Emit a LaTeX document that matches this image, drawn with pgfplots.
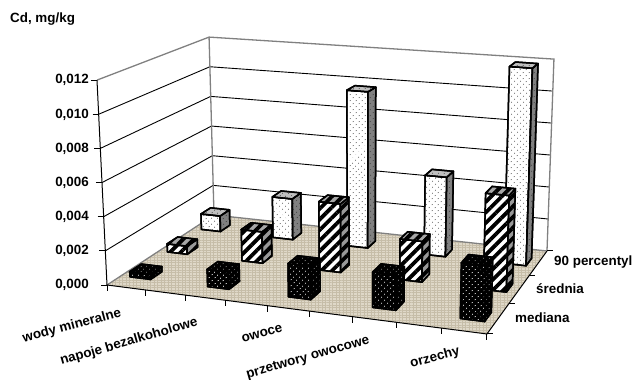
\documentclass[border=0pt]{standalone}
\usepackage{fontspec}
\setmainfont{Liberation Sans}
\usepackage{pgfplots}
\usepackage{pgfplotstable}
\pgfplotsset{compat=1.18}
\usetikzlibrary{patterns.meta}

\definecolor{wallgray}{HTML}{808080}
\definecolor{floorbase}{HTML}{DFD8C8}
\definecolor{floorweave}{HTML}{C6BDA8}

% Cd content (mg/kg): category slot k, then the three statistics
\pgfplotstableread{
k mediana srednia p90
0 0.0003  0.0005  0.0010
1 0.0010  0.0019  0.0026
2 0.0019  0.0041  0.0098
3 0.0020  0.0024  0.0049
4 0.0031  0.0056  0.0120
}\cdtable

% Perspective projection: u along the categories, v into the depth, third argument in mg/kg
\newcommand\cdpt[4]{%
  \pgfmathsetmacro\pw{1-0.08849*(#1)+0.15709*(#2)}%
  \pgfmathsetmacro\fx{(107+336.90*(#1)+140.62*(#2))/\pw}%
  \pgfmathsetmacro\fy{(285+19.44*(#1)-36.23*(#2))/\pw}%
  \pgfmathsetmacro\ph{(205*(1-(#1))*(1-(#2))+220*(#1)*(1-(#2))+192*(#1)*(#2)+178*(1-(#1))*(#2))*(#3)*1000/12}%
  \pgfmathsetmacro\px{\fx+(\fx-359)/(5440-\fy)*\ph}%
  \pgfmathsetmacro\py{\fy-\ph}%
  \expandafter\xdef\csname cdX#4\endcsname{\px}%
  \expandafter\xdef\csname cdY#4\endcsname{\py}%
}

% One 3-D column: slot, row, value, styles of the top, front and side faces
\newcommand\cdbar[6]{%
  \pgfmathsetmacro\cu{(2*#1+0.5)/9}%
  \pgfmathsetmacro\cv{(#2+0.5)/3}%
  \pgfmathsetmacro\ul{\cu-0.03}\pgfmathsetmacro\ur{\cu+0.03}%
  \pgfmathsetmacro\vf{\cv-0.05}\pgfmathsetmacro\vb{\cv+0.05}%
  \cdpt{\ul}{\vf}{0}{a}\cdpt{\ur}{\vf}{0}{b}\cdpt{\ur}{\vb}{0}{c}%
  \cdpt{\ul}{\vf}{#3}{d}\cdpt{\ur}{\vf}{#3}{e}\cdpt{\ur}{\vb}{#3}{f}\cdpt{\ul}{\vb}{#3}{g}%
  \addplot[#5] coordinates {(\cdXa,\cdYa)(\cdXb,\cdYb)(\cdXe,\cdYe)(\cdXd,\cdYd)} --cycle;
  \addplot[#6] coordinates {(\cdXb,\cdYb)(\cdXc,\cdYc)(\cdXf,\cdYf)(\cdXe,\cdYe)} --cycle;
  \addplot[#4] coordinates {(\cdXd,\cdYd)(\cdXe,\cdYe)(\cdXf,\cdYf)(\cdXg,\cdYg)} --cycle;
}

% A whole row of columns, taken from one column of the table
\newcommand\cdrow[5]{%
  \foreach \k in {0,...,4} {%
    \pgfplotstablegetelem{\k}{#1}\of\cdtable
    \let\cdval\pgfplotsretval
    \cdbar{\k}{#2}{\cdval}{#3}{#4}{#5}%
  }%
}

\tikzset{
  barline/.style={draw=black,line width=1.5pt,line join=round},
  dotsB/.style={postaction={pattern={Dots[angle=45,distance=4pt,radius=0.55pt]},pattern color=black!80}},
  dotsW/.style={postaction={pattern={Dots[angle=45,distance=4pt,radius=0.6pt]},pattern color=white}},
  dotsG/.style={postaction={pattern={Dots[angle=45,distance=4pt,radius=0.6pt]},pattern color=gray}},
  stripes/.style={postaction={pattern={Lines[angle=45,distance=7.5pt,line width=3.8pt]},pattern color=black}},
  p90front/.style={barline,fill=white,dotsB},
  p90side/.style={barline,fill=wallgray,dotsB},
  p90top/.style={barline,fill=black!25,dotsB},
  srfront/.style={barline,fill=white,stripes},
  srside/.style={barline,fill=black!40,stripes},
  srtop/.style={barline,fill=black!35,stripes},
  mefront/.style={barline,fill=black,dotsW},
  meside/.style={barline,fill=black,dotsG},
  metop/.style={barline,fill=black,dotsG},
  edge/.style={draw=black,line width=1pt},
  grayedge/.style={draw=wallgray,line width=1.3pt},
  lab/.style={font=\fontsize{13.4}{15}\selectfont\bfseries,inner sep=0pt},
}

\begin{document}
\begin{tikzpicture}
\path[use as bounding box] (0,0) rectangle (633pt,380pt);
\begin{axis}[
  at={(0,0)},anchor=south west,
  scale only axis,width=633pt,height=380pt,
  xmin=0,xmax=633,ymin=0,ymax=380,y dir=reverse,
  hide axis,clip=false,
]
% floor
\cdpt{0}{0}{0}{a}\cdpt{1}{0}{0}{b}\cdpt{1}{1}{0}{c}\cdpt{0}{1}{0}{d}
\addplot[draw=none,fill=floorbase,
  postaction={pattern={Lines[angle=0,distance=2.5pt,line width=0.6pt]},pattern color=floorweave},
  postaction={pattern={Lines[angle=90,distance=3.5pt,line width=0.6pt]},pattern color=floorweave}]
  coordinates {(\cdXa,\cdYa)(\cdXb,\cdYb)(\cdXc,\cdYc)(\cdXd,\cdYd)} --cycle;
\addplot[grayedge] coordinates {(\cdXa,\cdYa)(\cdXd,\cdYd)(\cdXc,\cdYc)};
\addplot[edge] coordinates {(\cdXa,\cdYa)(\cdXb,\cdYb)(\cdXc,\cdYc)};

% gridlines on the side wall and the back wall, with ticks of the value axis
\foreach \g in {0.002,0.004,0.006,0.008,0.010} {
  \cdpt{0}{0}{\g}{a}\cdpt{0}{1}{\g}{b}\cdpt{1}{1}{\g}{c}
  \addplot[draw=black,line width=0.9pt] coordinates {(\cdXa,\cdYa)(\cdXb,\cdYb)(\cdXc,\cdYc)};
}
\foreach \g in {0,0.002,0.004,0.006,0.008,0.010,0.012} {
  \cdpt{0}{0}{\g}{a}
  \pgfmathsetmacro\tx{\cdXa-6}
  \addplot[edge] coordinates {(\tx,\cdYa)(\cdXa,\cdYa)};
}
% wall frame
\cdpt{0}{0}{0.012}{a}\cdpt{0}{1}{0.012}{b}\cdpt{1}{1}{0.012}{c}
\cdpt{0}{1}{0}{d}\cdpt{1}{1}{0}{e}\cdpt{0}{0}{0}{f}
\addplot[grayedge] coordinates {(\cdXa,\cdYa)(\cdXb,\cdYb)(\cdXc,\cdYc)(\cdXe,\cdYe)};
\addplot[grayedge] coordinates {(\cdXb,\cdYb)(\cdXd,\cdYd)};
\addplot[edge] coordinates {(\cdXa,\cdYa)(\cdXf,\cdYf)};

% ticks along the two floor edges
\foreach \t in {0,...,9} {
  \pgfmathsetmacro\tu{\t/9}
  \cdpt{\tu}{0}{0}{a}
  \pgfmathsetmacro\ty{\cdYa+6}
  \addplot[edge] coordinates {(\cdXa,\cdYa)(\cdXa,\ty)};
}
\foreach \t in {0,1,2,3} {
  \pgfmathsetmacro\tv{\t/3}
  \cdpt{1}{\tv}{0}{a}
  \pgfmathsetmacro\tx{\cdXa+6}
  \addplot[edge] coordinates {(\cdXa,\cdYa)(\tx,\cdYa)};
}

% columns, from the back row to the front row
\cdrow{p90}{2}{p90top}{p90front}{p90side}
\cdrow{srednia}{1}{srtop}{srfront}{srside}
\cdrow{mediana}{0}{metop}{mefront}{meside}

% texts
\node[lab,anchor=west] at (axis cs:10,19) {Cd, mg/kg};
\node[lab,anchor=east] at (axis cs:89,80) {0,012};
\node[lab,anchor=east] at (axis cs:89,115) {0,010};
\node[lab,anchor=east] at (axis cs:89,149) {0,008};
\node[lab,anchor=east] at (axis cs:89,183) {0,006};
\node[lab,anchor=east] at (axis cs:89,217) {0,004};
\node[lab,anchor=east] at (axis cs:89,251) {0,002};
\node[lab,anchor=east] at (axis cs:89,285) {0,000};
\node[lab,rotate=15] at (axis cs:72,326) {wody mineralne};
\node[lab,rotate=16] at (axis cs:129,342) {napoje bezalkoholowe};
\node[lab,rotate=15] at (axis cs:262,334) {owoce};
\node[lab,rotate=16] at (axis cs:308,358) {przetwory owocowe};
\node[lab,rotate=15] at (axis cs:435,358) {orzechy};
\node[lab,anchor=west] at (axis cs:554,262) {90 percentyl};
\node[lab,anchor=west] at (axis cs:536,289) {średnia};
\node[lab,anchor=west] at (axis cs:515,318) {mediana};
\end{axis}
\end{tikzpicture}
\end{document}
